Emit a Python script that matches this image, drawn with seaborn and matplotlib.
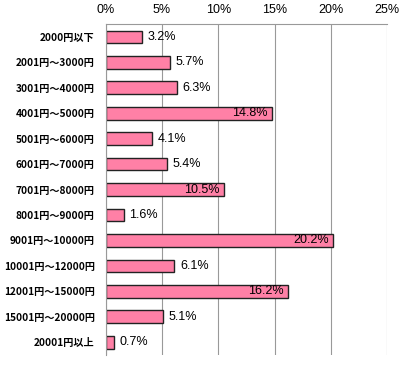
import pandas as pd
import numpy as np
import seaborn as sns
from matplotlib import pyplot as plt

categories = ["2000円以下", "2001円～3000円", "3001円～4000円", "4001円～5000円",
              "5001円～6000円", "6001円～7000円", "7001円～8000円", "8001円～9000円",
              "9001円～10000円", "10001円～12000円", "12001円～15000円",
              "15001円～20000円", "20001円以上"]
values = [3.2, 5.7, 6.3, 14.8, 4.1, 5.4, 10.5, 1.6, 20.2, 6.1, 16.2, 5.1, 0.7]

sns.set_style("white")
plt.rcParams['font.family'] = ['Noto Sans CJK JP', 'DejaVu Sans']
plt.rcParams['text.color'] = 'black'
plt.rcParams['xtick.labelcolor'] = 'black'
plt.rcParams['ytick.labelcolor'] = 'black'

df = pd.DataFrame({"price": categories, "share": values})

fig = plt.figure(figsize=(4.07, 3.66), dpi=100)
ax = fig.add_axes([0.26, 0.03, 0.691, 0.904])
sns.barplot(data=df, x="share", y="price", orient="h", color="#FF80A6",
            saturation=1, width=0.5, edgecolor="#222222", linewidth=1, ax=ax)

ax.set_xlim(0, 25)
ax.set_ylim(len(categories) - 0.5, -0.5)
ax.set_xticks(np.arange(0, 26, 5))
ax.set_xticklabels([f"{t}%" for t in range(0, 26, 5)], fontsize=9, family='Liberation Sans')
ax.xaxis.tick_top()
ax.tick_params(axis='x', length=0, pad=6)
ax.set_yticks(range(len(categories)))
ax.set_yticklabels(categories, fontsize=7.3, fontweight='bold')
ax.tick_params(axis='y', length=0, pad=8)
ax.set_yticks(np.arange(-0.5, len(categories), 1), minor=True)
ax.tick_params(axis='y', which='minor', length=3, color='#999999')
ax.set_xlabel("")
ax.set_ylabel("")
ax.grid(axis='x', color='#999999', linewidth=0.8)
ax.set_axisbelow(True)
for s in ['right', 'bottom']:
    ax.spines[s].set_visible(False)
for s in ['left', 'top']:
    ax.spines[s].set_color('#999999')
    ax.spines[s].set_linewidth(0.8)

for i, v in enumerate(values):
    if v >= 10:
        ax.text(v - 0.4, i, f"{v}%", va='center', ha='right', fontsize=9, family='Liberation Sans')
    else:
        ax.text(v + 0.5, i, f"{v}%", va='center', ha='left', fontsize=9, family='Liberation Sans')

fig.savefig("out.png", dpi=100)
